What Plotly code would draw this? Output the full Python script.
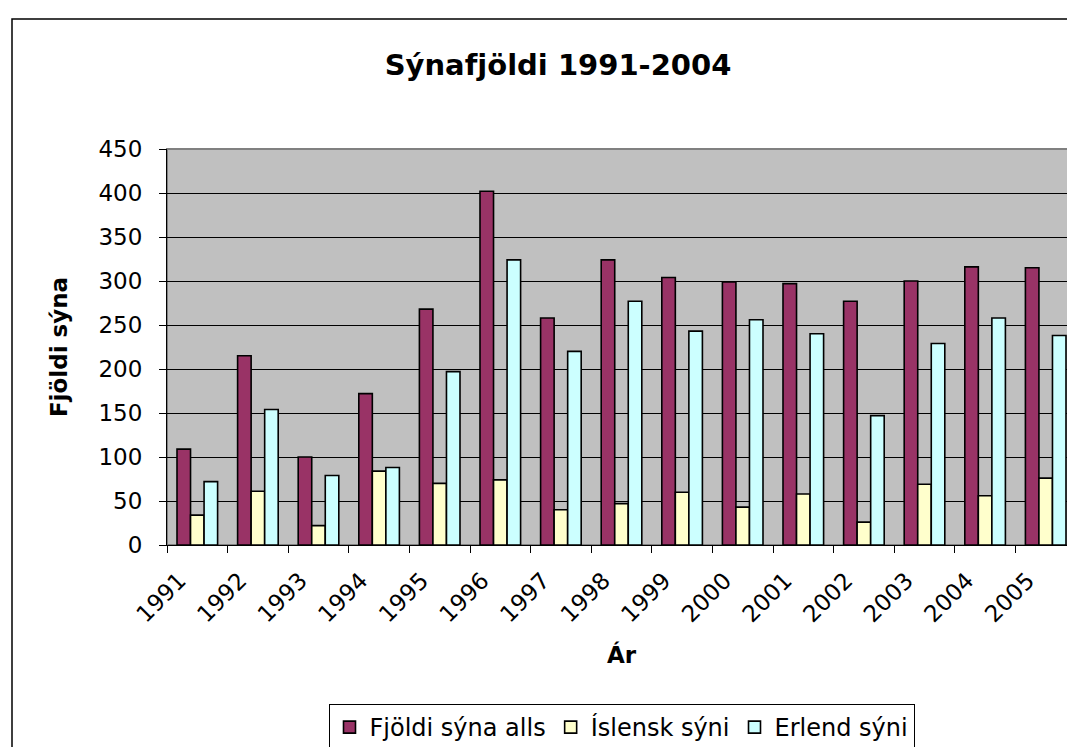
import plotly.graph_objects as go

years = [str(y) for y in range(1991, 2006)]
total = [109, 215, 100, 172, 268, 402, 258, 324, 304, 299, 297, 277, 300, 316, 315]
icelandic = [34, 61, 22, 84, 70, 74, 40, 47, 60, 43, 58, 26, 69, 56, 76]
foreign = [72, 154, 79, 88, 197, 324, 220, 277, 243, 256, 240, 147, 229, 258, 238]

names = ["Fjöldi sýna alls", "Íslensk sýni", "Erlend sýni"]
colors = ["#993366", "#FFFFCC", "#CCFFFF"]

W, H = 1075, 747
PL, PR, PT, PB = 159, 1068, 141, 537  # plot area in pixels
TITLE_CX = 550

def px(x):
    return (x - PL) / (PR - PL)

def py(y):
    return (PB - y) / (PB - PT)

FONT = "DejaVu Sans, Arial, sans-serif"

fig = go.Figure()
for name, vals, col in zip(names, [total, icelandic, foreign], colors):
    fig.add_trace(go.Bar(
        x=years, y=vals, name=name,
        marker=dict(color=col, line=dict(color="black", width=1.6)),
    ))

fig.update_layout(
    width=W, height=H,
    margin=dict(l=PL, r=W - PR, t=PT, b=H - PB, autoexpand=False),
    paper_bgcolor="white",
    plot_bgcolor="#C0C0C0",
    barmode="group",
    bargap=0.33,
    bargroupgap=0,
    font=dict(family=FONT, color="black", size=23),
    title=dict(text="<b>Sýnafjöldi 1991-2004</b>", x=px(TITLE_CX), xref="paper", xanchor="center",
               y=1 - 57 / H, yref="container", yanchor="middle",
               font=dict(size=29, family=FONT, color="black")),
    showlegend=True,
    legend=dict(orientation="h", x=0.5, xanchor="center", y=py(696), yanchor="top",
                bordercolor="black", borderwidth=1, bgcolor="white",
                font=dict(size=24, family=FONT), traceorder="normal"),
)

fig.update_xaxes(
    type="category",
    tickangle=-45,
    tickson="boundaries",
    ticks="outside", ticklen=7, tickcolor="black", tickwidth=1,
    showline=True, linecolor="black", linewidth=1,
    showgrid=False,
    tickfont=dict(size=23, family=FONT),
    ticklabelstandoff=12, ticklabelshift=-18,
    title=dict(text="<b>Ár</b>", font=dict(size=23, family=FONT), standoff=20),
)
fig.update_yaxes(
    range=[0, 450], dtick=50,
    ticks="outside", ticklen=7, tickcolor="black", tickwidth=1,
    showline=True, linecolor="black", linewidth=1,
    showgrid=True, gridcolor="black", gridwidth=1,
    zeroline=False,
    tickfont=dict(size=23, family=FONT),
    ticklabelstandoff=12,
    title=dict(text="<b>Fjöldi sýna</b>", font=dict(size=23, family=FONT), standoff=24),
)

# plot area border (gray) and outer chart border (black, cropped at right/bottom)
fig.add_shape(type="rect", xref="paper", yref="paper", x0=0, x1=1, y0=0, y1=1,
              line=dict(color="#808080", width=2), layer="below")
fig.add_shape(type="rect", xref="paper", yref="paper",
              x0=px(4), x1=px(W + 10), y0=py(H + 10), y1=py(11),
              line=dict(color="black", width=1.5), fillcolor="rgba(0,0,0,0)")

fig.write_html("out.html")
